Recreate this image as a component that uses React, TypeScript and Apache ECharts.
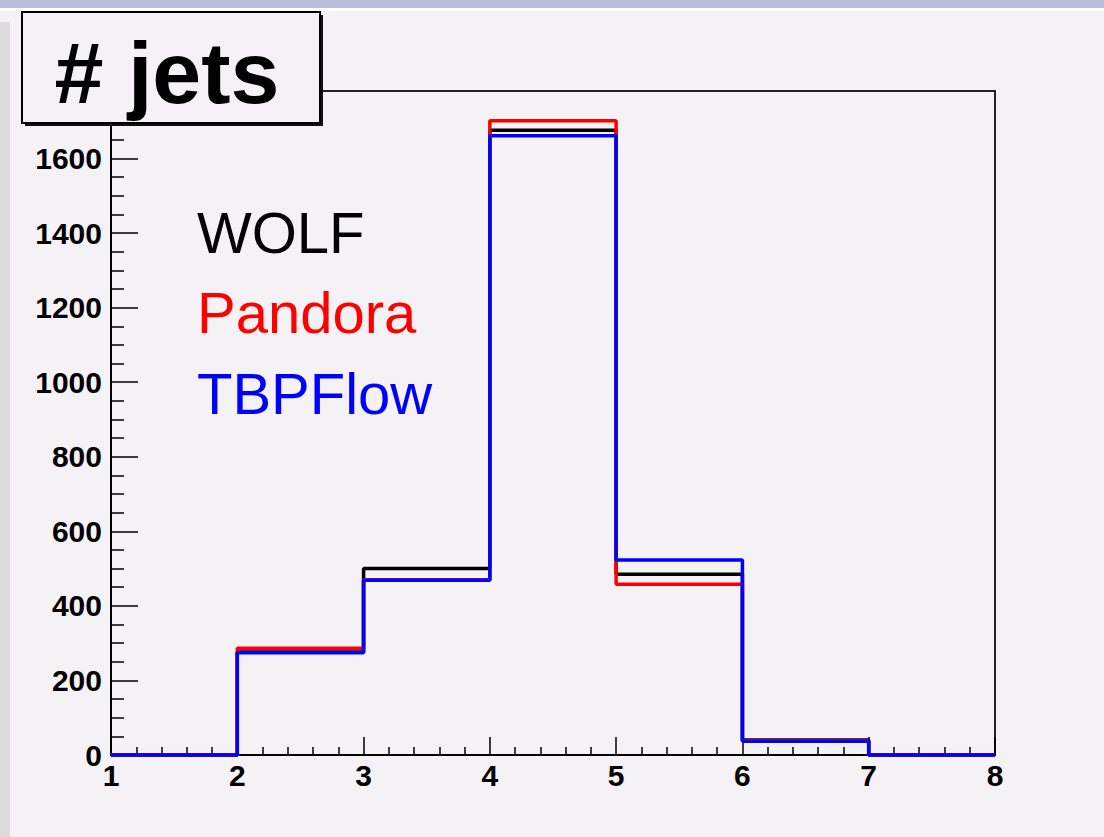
import React, { useEffect, useRef } from "react";
import * as echarts from "echarts";

// Bin edges (number of jets) and bin contents for each algorithm
const binEdges = [1, 2, 3, 4, 5, 6, 7, 8];
const wolf = [0, 276, 500, 1676, 485, 40, 0];
const pandora = [0, 286, 470, 1701, 458, 38, 0];
const tbpflow = [0, 274, 469, 1661, 523, 37, 0];

const xTicks = { min: 1, max: 8, interval: 1 };
const yTicks = { min: 0, max: 1781, interval: 200 };

const seriesDefs = [
  { name: "WOLF", values: wolf, color: "#000000" },
  { name: "Pandora", values: pandora, color: "#ff0000" },
  { name: "TBPFlow", values: tbpflow, color: "#0000ff" },
];
const legendBaselines = [252, 332, 413];

const BG = "#f5f2f6";

function stepData(values: number[]) {
  const pts: number[][] = values.map((v, i) => [binEdges[i], v]);
  pts.push([binEdges[binEdges.length - 1], values[values.length - 1]]);
  return pts;
}

export default function App() {
  const ref = useRef<HTMLDivElement>(null);
  useEffect(() => {
    document.body.style.margin = "0";
    if (!ref.current) return;
    const chart = echarts.init(ref.current, null, { renderer: "svg" });
    const axisFont = {
      fontSize: 30,
      fontWeight: "bold" as const,
      color: "#000",
      fontFamily: "Liberation Sans, Arial, sans-serif",
    };
    chart.setOption({
      animation: false,
      backgroundColor: BG,
      grid: {
        left: 111,
        right: 109,
        top: 91,
        bottom: 82,
        show: true,
        borderColor: "#222",
        borderWidth: 2,
        backgroundColor: "transparent",
      },
      xAxis: {
        type: "value",
        min: xTicks.min,
        max: xTicks.max,
        interval: xTicks.interval,
        axisLine: { show: true, lineStyle: { color: "#000", width: 2 } },
        axisTick: { show: true, inside: true, length: 18, lineStyle: { color: "#000", width: 1.5 } },
        minorTick: { show: true, splitNumber: 5, length: 8, lineStyle: { color: "#000", width: 1.5 } },
        splitLine: { show: false },
        minorSplitLine: { show: false },
        axisLabel: {
          ...axisFont,
          margin: 5,
          showMaxLabel: true,
          showMinLabel: true,
          formatter: (v: number) => String(v),
        },
      },
      yAxis: {
        type: "value",
        min: yTicks.min,
        max: yTicks.max,
        interval: yTicks.interval,
        axisLine: { show: true, lineStyle: { color: "#000", width: 2 } },
        axisTick: { show: true, inside: true, length: 27, lineStyle: { color: "#000", width: 1.5 } },
        minorTick: { show: true, splitNumber: 4, length: 13, lineStyle: { color: "#000", width: 1.5 } },
        splitLine: { show: false },
        minorSplitLine: { show: false },
        axisLabel: {
          ...axisFont,
          margin: 9,
          showMaxLabel: false,
          padding: [6, 0, 0, 0],
          formatter: (v: number) => String(v),
        },
      },
      series: seriesDefs.map((s) => ({
        name: s.name,
        type: "line",
        step: "end",
        symbol: "none",
        data: stepData(s.values),
        lineStyle: { color: s.color, width: 3.5 },
        itemStyle: { color: s.color },
        clip: false,
      })),
      graphic: [
        { type: "rect", z: 50, shape: { x: 0, y: 0, width: 1104, height: 8 }, style: { fill: "#b9bdd9" } },
        { type: "rect", z: 50, shape: { x: 0, y: 8, width: 1104, height: 3 }, style: { fill: "#ffffff" } },
        { type: "rect", z: 50, shape: { x: 0, y: 22, width: 10, height: 815 }, style: { fill: "#dcdcdc" } },
        { type: "rect", z: 100, shape: { x: 25, y: 15, width: 298, height: 111 }, style: { fill: "#111" } },
        {
          type: "rect",
          z: 101,
          shape: { x: 22, y: 12, width: 298, height: 111 },
          style: { fill: BG, stroke: "#000", lineWidth: 2 },
        },
        {
          type: "text",
          z: 102,
          x: 167,
          y: 72,
          style: {
            text: "# jets",
            fontSize: 88,
            fontWeight: "bold",
            fontFamily: "Liberation Sans, Arial, sans-serif",
            fill: "#000",
            align: "center",
            verticalAlign: "middle",
          },
        },
        ...seriesDefs.map((s, i) => ({
          type: "text",
          z: 102,
          x: 197,
          y: legendBaselines[i] - 20,
          style: {
            text: s.name,
            fontSize: 58,
            fontFamily: "Comic Sans MS, Liberation Sans, Arial, sans-serif",
            fill: s.color,
            align: "left",
            verticalAlign: "middle",
          },
        })),
      ],
    });
    return () => chart.dispose();
  }, []);
  return <div ref={ref} style={{ position: "fixed", left: 0, top: 0, width: 1104, height: 837 }} />;
}
